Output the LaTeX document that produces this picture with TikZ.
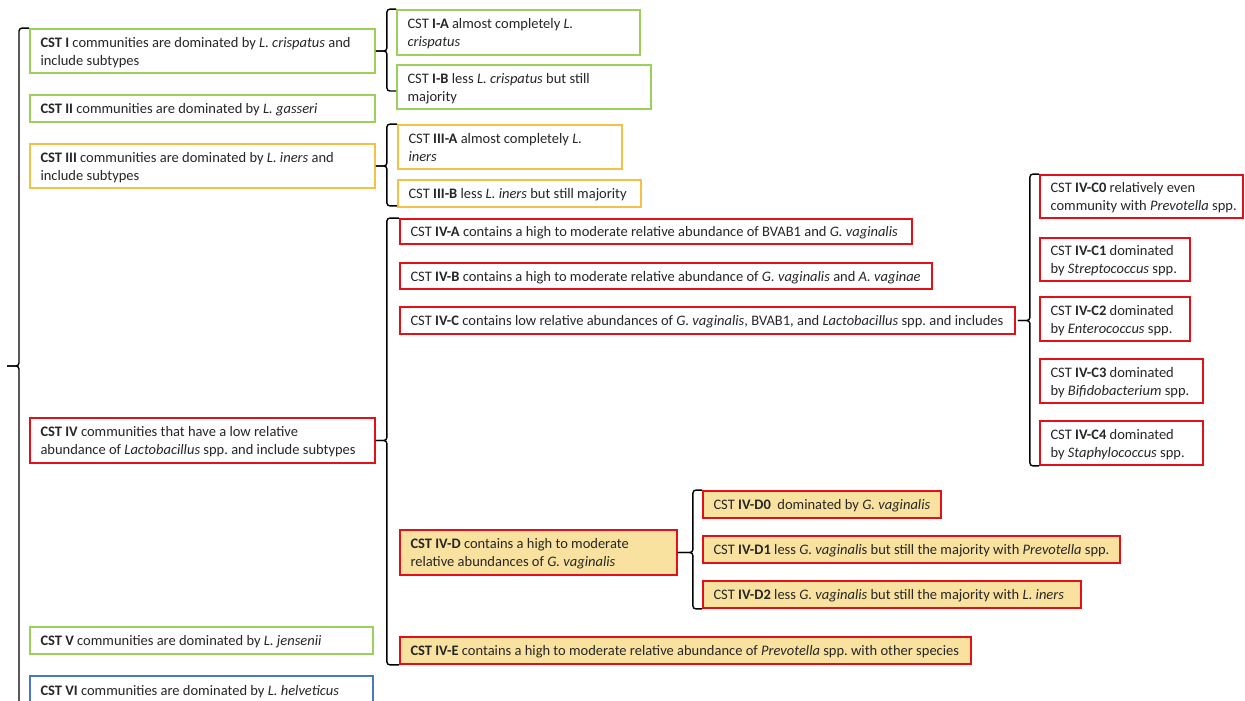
\documentclass[tikz,border=0pt]{standalone}
\usepackage{fontspec}
\setmainfont{Carlito}
\usetikzlibrary{calc}
\frenchspacing
\definecolor{cgreen}{HTML}{9BD05A}
\definecolor{corange}{HTML}{F4C046}
\definecolor{cred}{HTML}{E3101A}
\definecolor{cblue}{HTML}{4A76C3}
\definecolor{cfill}{HTML}{F9E29F}
\newcommand\bx[7]{%
  \pgfmathsetmacro\bxh{#5-#3}%
  \pgfmathsetmacro\bxw{#4-#2-21}%
  \node[#6, minimum height=\bxh pt] (#1) at ({(#2+#4)/2},{(#3+#5)/2})
    {\makebox[\bxw pt][l]{\raisebox{-1.5pt}[\height][\depth]{\begin{tabular}{@{}l@{}}#7\end{tabular}}}};%
}
\begin{document}
\begin{tikzpicture}[x=1pt,y=-1pt,
  boxbase/.style={draw, line width=1.8pt, inner xsep=10.5pt, inner ysep=0pt,
    font=\fontsize{14.5}{18}\selectfont\frenchspacing, text=black!85},
  gbox/.style={boxbase, draw=cgreen},
  obox/.style={boxbase, draw=corange},
  rbox/.style={boxbase, draw=cred},
  bbox/.style={boxbase, draw=cblue},
  ybox/.style={boxbase, draw=cred, fill=cfill},
  brc/.style={draw=black, line width=1.4pt, rounded corners=3pt}]
\useasboundingbox (0,0) rectangle (1245,701);
\clip (0,0) rectangle (1245,701);
\fill[white] (0,0) rectangle (1245,701);

% left column
\bx{cst1}{30}{29}{375}{73}{gbox}{\textbf{CST I} communities are dominated by \textit{L. crispatus} and\\include subtypes}
\bx{cst2}{30}{95}{375}{122}{gbox}{\textbf{CST II} communities are dominated by \textit{L. gasseri}}
\bx{cst3}{30}{144}{375}{188}{obox}{\textbf{CST III} communities are dominated by \textit{L. iners} and\\include subtypes}
\bx{cst4}{30}{418}{375}{463}{rbox}{\textbf{CST IV} communities that have a low relative\\abundance of \textit{Lactobacillus} spp. and include subtypes}
\bx{cst5}{30}{627}{373}{654}{gbox}{\textbf{CST V} communities are dominated by \textit{L. jensenii}}
\bx{cst6}{30}{676}{373}{704}{bbox}{\textbf{CST VI} communities are dominated by \textit{L. helveticus}}

% second column
\bx{ia}{397}{10}{640}{55}{gbox}{CST \textbf{I-A} almost completely \textit{L.}\\\textit{crispatus}}
\bx{ib}{397}{65}{651}{109}{gbox}{CST \textbf{I-B} less \textit{L. crispatus} but still\\majority}
\bx{iiia}{398}{125}{622}{169}{obox}{CST \textbf{III-A} almost completely \textit{L.}\\\textit{iners}}
\bx{iiib}{398}{180}{641}{207}{obox}{CST \textbf{III-B} less \textit{L. iners} but still majority}
\bx{iva}{400}{219}{912}{244}{rbox}{CST \textbf{IV-A} contains a high to moderate relative abundance of BVAB1 and \textit{G. vaginalis}}
\bx{ivb}{400}{263}{932}{289}{rbox}{CST \textbf{IV-B} contains a high to moderate relative abundance of \textit{G. vaginalis} and \textit{A. vaginae}}
\bx{ivc}{400}{307}{1015}{334}{rbox}{CST \textbf{IV-C} contains low relative abundances of \textit{G. vaginalis}, BVAB1, and \textit{Lactobacillus} spp. and includes}
\bx{ivd}{400}{530}{677}{575}{ybox}{\textbf{CST IV-D} contains a high to moderate\\relative abundances of \textit{G. vaginalis}}
\bx{ive}{400}{637}{971}{664}{ybox}{\textbf{CST IV-E} contains a high to moderate relative abundance of \textit{Prevotella} spp. with other species}

% IV-C subtypes
\bx{c0}{1040}{175}{1243}{218}{rbox}{CST \textbf{IV-C0} relatively even\\community with \textit{Prevotella} spp.}
\bx{c1}{1040}{238}{1190}{281}{rbox}{CST \textbf{IV-C1} dominated\\by \textit{Streptococcus} spp.}
\bx{c2}{1040}{297}{1190}{341}{rbox}{CST \textbf{IV-C2} dominated\\by \textit{Enterococcus} spp.}
\bx{c3}{1040}{359}{1203}{403}{rbox}{CST \textbf{IV-C3} dominated\\by \textit{Bifidobacterium} spp.}
\bx{c4}{1040}{421}{1203}{465}{rbox}{CST \textbf{IV-C4} dominated\\by \textit{Staphylococcus} spp.}

% IV-D subtypes
\bx{d0}{703}{491}{941}{518}{ybox}{CST \textbf{IV-D0}\ \ dominated by \textit{G. vaginalis}}
\bx{d1}{703}{536}{1120}{563}{ybox}{CST \textbf{IV-D1} less \textit{G. vaginali}s but still the majority with \textit{Prevotella} spp.}
\bx{d2}{703}{581}{1081}{608}{ybox}{CST \textbf{IV-D2} less \textit{G. vaginalis} but still the majority with \textit{L. iners}}

% big left brace
\coordinate (bigtip) at (7,366);
\coordinate (bigbot) at (19,730);
\draw[brc] (cst1.north west) -| ($(bigtip)+(12,0)$) -- (bigtip);
\draw[brc] (bigtip) -- ($(bigtip)+(12,0)$) -- (bigbot);

% brace CST I
\draw[brc] (ia.north west) -| ($(cst1.east)+(11,0)$) -- (cst1.east);
\draw[brc] ($(ib.west)+(0,4)$) -| ($(cst1.east)+(11,0)$) -- (cst1.east);
% brace CST III
\draw[brc] (iiia.north west) -| ($(cst3.east)+(11,0)$) -- (cst3.east);
\draw[brc] ($(iiib.south west)+(0,-2)$) -| ($(cst3.east)+(11,0)$) -- (cst3.east);
% brace CST IV
\draw[brc] (iva.north west) -| ($(cst4.east)+(11,0)$) -- (cst4.east);
\draw[brc] (ive.south west) -| ($(cst4.east)+(11,0)$) -- (cst4.east);
% brace IV-C
\draw[brc] (c0.north west) -| ($(ivc.east)+(14,0)$) -- ($(ivc.east)+(2,0)$);
\draw[brc] (c4.south west) -| ($(ivc.east)+(14,0)$) -- ($(ivc.east)+(2,0)$);
% brace IV-D
\draw[brc] (d0.north west) -| ($(ivd.east)+(15,0)$) -- (ivd.east);
\draw[brc] (d2.south west) -| ($(ivd.east)+(15,0)$) -- (ivd.east);
\end{tikzpicture}
\end{document}
